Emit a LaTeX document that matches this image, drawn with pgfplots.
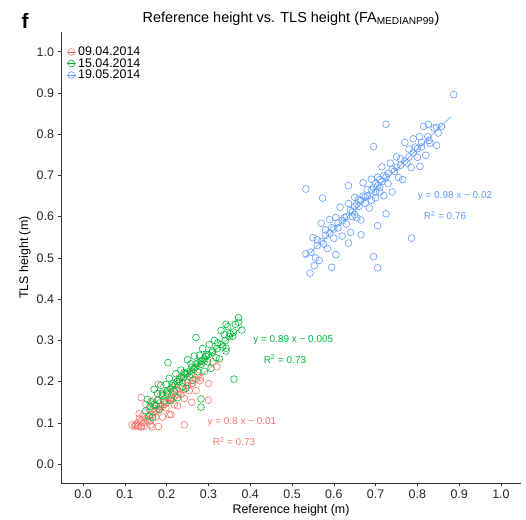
\documentclass[border=0pt]{standalone}
\usepackage{pgfplots}
\pgfplotsset{compat=1.18}
\usepackage{fontspec}
\setmainfont{Liberation Sans}
\definecolor{cR}{HTML}{F8766D}
\definecolor{cG}{HTML}{00BA38}
\definecolor{cB}{HTML}{619CFF}
\definecolor{axc}{HTML}{333333}
\begin{document}
\begin{tikzpicture}
\useasboundingbox (-61bp,-37bp) rectangle (465bp,483bp);
\begin{axis}[
  at={(0,0)}, anchor=south west,
  scale only axis, width=460bp, height=451bp,
  xmin=-0.053, xmax=1.048, ymin=-0.046, ymax=1.048,
  axis x line*=bottom, axis y line*=left,
  axis line style={-, axc, line width=0.9bp},
  xtick={0,0.1,...,1.0}, ytick={0,0.1,...,1.0},
  tick style={axc, line width=0.6bp},
  tick align=outside, major tick length=3.5bp,
  xticklabel style={/pgf/number format/.cd, fixed, fixed zerofill, precision=1},
  yticklabel style={/pgf/number format/.cd, fixed, fixed zerofill, precision=1},
  /pgf/number format/assume math mode=true,
  ticklabel style={font=\fontsize{12.5}{14}\selectfont, text=black!85},
  xlabel={Reference height (m)}, ylabel={TLS height (m)},
  label style={font=\fontsize{12.5}{14}\selectfont},
  xlabel style={at={(0.5,0)}, anchor=center, yshift=-27bp},
  ylabel style={at={(0,0.5)}, anchor=center, yshift=36bp},
  legend style={at={(0.012,0.972)}, anchor=north west, draw=none, fill=none,
    font=\fontsize{12.5}{11}\selectfont, row sep=-2.6bp, inner sep=0pt,
    cells={anchor=west}},
  legend image code/.code={\draw[#1,mark=none,solid] (0bp,0bp) -- (9bp,0bp); \draw[#1] plot coordinates {(4.5bp,0bp)};},
  clip=false,
]
% red 09.04.2014
\addplot[only marks, mark=o, mark size=3.4bp, cR, mark options={line width=0.6bp}] coordinates {
(0.130,0.094)(0.134,0.122)(0.138,0.090)(0.142,0.116)(0.146,0.092)(0.150,0.145)(0.154,0.105)(0.158,0.134)
(0.162,0.095)(0.166,0.153)(0.170,0.134)(0.174,0.114)(0.178,0.154)(0.182,0.132)(0.186,0.169)(0.190,0.114)
(0.194,0.149)(0.198,0.136)(0.202,0.178)(0.206,0.120)(0.210,0.158)(0.214,0.186)(0.218,0.144)(0.222,0.180)
(0.226,0.141)(0.230,0.209)(0.234,0.169)(0.238,0.198)(0.242,0.159)(0.246,0.217)(0.250,0.198)(0.254,0.178)
(0.258,0.218)(0.262,0.196)(0.266,0.233)(0.270,0.178)(0.275,0.214)(0.280,0.202)(0.290,0.248)(0.300,0.195)
(0.310,0.248)(0.320,0.236)
(0.140,0.105)(0.150,0.110)(0.155,0.115)(0.160,0.120)(0.165,0.120)(0.170,0.125)(0.175,0.130)(0.180,0.135)
(0.185,0.140)(0.190,0.140)(0.195,0.145)(0.200,0.150)(0.205,0.155)(0.210,0.160)(0.215,0.160)(0.220,0.165)
(0.225,0.170)(0.230,0.175)(0.240,0.180)(0.250,0.190)(0.260,0.195)(0.270,0.205)(0.280,0.210)(0.130,0.100)
(0.125,0.095)(0.135,0.110)(0.145,0.100)(0.160,0.105)
(0.117,0.095)(0.124,0.092)(0.132,0.092)(0.140,0.091)(0.180,0.091)(0.242,0.095)(0.180,0.194)(0.300,0.155)
(0.139,0.161)(0.165,0.090)(0.210,0.120)(0.260,0.150)
};
\addlegendentry{09.04.2014}
% green 15.04.2014
\addplot[only marks, mark=o, mark size=3.4bp, cG, mark options={line width=0.6bp}] coordinates {
(0.150,0.129)(0.154,0.157)(0.158,0.116)(0.162,0.151)(0.166,0.113)(0.170,0.181)(0.174,0.142)(0.178,0.171)
(0.182,0.132)(0.186,0.191)(0.190,0.172)(0.194,0.153)(0.198,0.193)(0.202,0.171)(0.206,0.208)(0.210,0.154)
(0.214,0.190)(0.218,0.177)(0.222,0.219)(0.226,0.161)(0.230,0.200)(0.234,0.228)(0.238,0.187)(0.242,0.222)
(0.246,0.184)(0.250,0.253)(0.254,0.213)(0.258,0.243)(0.262,0.203)(0.266,0.262)(0.270,0.243)(0.274,0.224)
(0.278,0.264)(0.282,0.242)(0.286,0.280)(0.290,0.225)(0.294,0.261)(0.298,0.248)(0.302,0.290)(0.306,0.232)
(0.310,0.271)(0.314,0.300)(0.318,0.258)(0.322,0.294)(0.326,0.255)(0.330,0.324)(0.334,0.284)(0.338,0.314)
(0.342,0.274)(0.346,0.333)(0.352,0.316)(0.358,0.310)(0.364,0.339)
(0.180,0.155)(0.190,0.165)(0.200,0.175)(0.210,0.182)(0.215,0.195)(0.220,0.192)(0.225,0.200)(0.230,0.205)
(0.235,0.210)(0.240,0.210)(0.245,0.220)(0.250,0.220)(0.255,0.225)(0.260,0.235)(0.265,0.230)(0.270,0.235)
(0.275,0.245)(0.280,0.250)(0.285,0.250)(0.290,0.255)(0.295,0.265)(0.300,0.265)(0.310,0.275)(0.320,0.280)
(0.330,0.290)(0.340,0.300)(0.350,0.310)(0.360,0.320)(0.170,0.145)(0.160,0.140)
(0.372,0.355)(0.342,0.339)(0.372,0.344)(0.380,0.325)(0.270,0.307)(0.203,0.246)(0.361,0.206)(0.282,0.158)
(0.282,0.138)(0.342,0.281)
};
\addlegendentry{15.04.2014}
% blue 19.05.2014
\addplot[only marks, mark=o, mark size=3.4bp, cB, mark options={line width=0.6bp}] coordinates {
(0.545,0.514)(0.550,0.549)(0.556,0.500)(0.560,0.544)(0.565,0.494)(0.570,0.584)(0.575,0.534)(0.580,0.568)
(0.585,0.523)(0.590,0.593)(0.595,0.573)(0.600,0.548)(0.605,0.598)(0.610,0.573)(0.615,0.623)(0.620,0.553)
(0.625,0.598)(0.630,0.582)(0.635,0.632)(0.640,0.562)(0.645,0.612)(0.650,0.647)(0.655,0.597)(0.660,0.642)
(0.665,0.592)(0.670,0.682)(0.675,0.632)(0.680,0.666)(0.685,0.621)(0.690,0.691)(0.695,0.671)(0.700,0.646)
(0.705,0.696)(0.710,0.671)(0.715,0.721)(0.720,0.651)(0.725,0.696)(0.730,0.680)(0.735,0.730)(0.740,0.660)
(0.745,0.710)(0.750,0.745)(0.755,0.695)(0.760,0.740)(0.765,0.690)(0.770,0.780)(0.775,0.730)(0.780,0.764)
(0.785,0.719)(0.790,0.789)(0.795,0.769)(0.800,0.744)(0.805,0.794)(0.810,0.769)(0.815,0.819)(0.820,0.749)
(0.825,0.794)(0.830,0.778)(0.840,0.815)(0.850,0.803)
(0.600,0.570)(0.610,0.585)(0.620,0.590)(0.630,0.600)(0.640,0.615)(0.650,0.625)(0.655,0.630)(0.660,0.625)
(0.665,0.640)(0.670,0.650)(0.675,0.648)(0.680,0.650)(0.690,0.665)(0.700,0.680)(0.705,0.675)(0.710,0.690)
(0.715,0.685)(0.720,0.700)(0.730,0.705)(0.740,0.715)(0.750,0.720)(0.760,0.725)(0.770,0.735)(0.780,0.745)
(0.790,0.755)(0.800,0.765)(0.810,0.780)(0.560,0.530)(0.570,0.540)(0.580,0.555)(0.590,0.560)(0.645,0.600)
(0.650,0.605)(0.700,0.660)(0.710,0.660)(0.690,0.640)
(0.887,0.896)(0.725,0.824)(0.695,0.770)(0.533,0.667)(0.573,0.645)(0.786,0.548)(0.705,0.578)(0.695,0.503)
(0.705,0.476)(0.595,0.477)(0.543,0.463)(0.553,0.481)(0.533,0.510)(0.605,0.508)(0.635,0.536)(0.665,0.556)
(0.725,0.607)(0.635,0.675)(0.846,0.773)(0.826,0.824)(0.846,0.817)(0.858,0.819)(0.806,0.722)(0.828,0.785)
};
\addlegendentry{19.05.2014}
% regression lines
\addplot[cR, line width=0.5bp, forget plot] coordinates {(0.117,0.0836)(0.330,0.254)};
\addplot[cG, line width=0.5bp, forget plot] coordinates {(0.150,0.1285)(0.380,0.3332)};
\addplot[cB, line width=0.5bp, forget plot] coordinates {(0.530,0.4994)(0.880,0.8424)};
% annotations
\node[cG, font=\fontsize{10}{11}\selectfont] at (axis cs:0.503,0.300) {y = 0.89 x − 0.005};
\node[cG, font=\fontsize{10}{11}\selectfont] at (axis cs:0.483,0.254) {R\textsuperscript{2} = 0.73};
\node[cR, font=\fontsize{10}{11}\selectfont] at (axis cs:0.380,0.101) {y = 0.8 x − 0.01};
\node[cR, font=\fontsize{10}{11}\selectfont] at (axis cs:0.361,0.054) {R\textsuperscript{2} = 0.73};
\node[cB, font=\fontsize{10}{11}\selectfont] at (axis cs:0.890,0.650) {y = 0.98 x − 0.02};
\node[cB, font=\fontsize{10}{11}\selectfont] at (axis cs:0.866,0.603) {R\textsuperscript{2} = 0.76};
\end{axis}
\node[font=\fontsize{21}{22}\selectfont\bfseries] at (-36bp,462bp) {f};
\node[font=\fontsize{14.5}{15}\selectfont] at (230bp,464bp) {Reference height vs. TLS height (FA\textsubscript{MEDIANP99})};
\end{tikzpicture}
\end{document}
